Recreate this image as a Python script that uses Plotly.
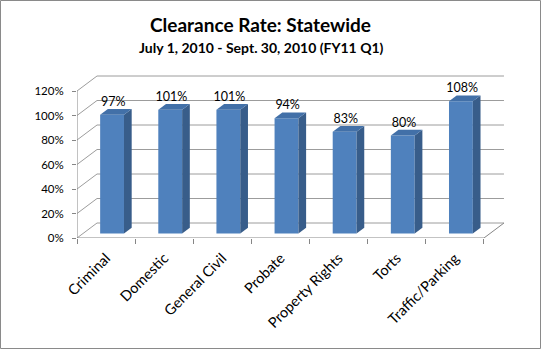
import plotly.graph_objects as go

categories = ["Criminal", "Domestic", "General Civil", "Probate", "Property Rights", "Torts", "Traffic/Parking"]
values = [0.97, 1.01, 1.01, 0.94, 0.83, 0.80, 1.08]
labels = ["97%", "101%", "101%", "94%", "83%", "80%", "108%"]
ytick_vals = [0, 0.2, 0.4, 0.6, 0.8, 1.0, 1.2]
ytick_text = ["0%", "20%", "40%", "60%", "80%", "100%", "120%"]

W, H = 541, 349
ML, MR, MT, MB = 77, 36, 74, 111
PW, PH = W - ML - MR, H - MT - MB
PX_X = 58.14   # pixels per category
PX_Y = 122.5   # pixels per 100%
ddx = 20 / PX_X   # depth offset (x)
ddy = 15 / PX_Y   # depth offset (y)
f1, s, bw = 0.30, 0.385, 0.41

n = len(categories)
xs = list(range(n))
xr = [-0.5, -0.5 + PW / PX_X]
yr = [0, PH / PX_Y]

FRONT = "#4F81BD"
SIDE = "#385D8A"
TOP = "#4270A8"
GRID = "#9c9c9c"
AX = "#868686"
FONT = "Lato"

fig = go.Figure()
base = f1 * ddy
fig.add_trace(go.Bar(x=xs, y=values, base=[base] * n, width=bw, offset=-bw / 2 + f1 * ddx,
                     marker=dict(color=FRONT, line=dict(width=0)), hoverinfo="skip"))

shapes = []
# back wall gridlines + left wall diagonals
for v in ytick_vals:
    shapes.append(dict(type="path", xref="x", yref="y",
                       path=f"M{-0.5},{v} L{-0.5+ddx},{v+ddy} L{n-0.5+ddx},{v+ddy}",
                       line=dict(color=GRID, width=1), layer="below"))
# floor
shapes.append(dict(type="path", xref="x", yref="y",
                   path=f"M{-0.5},0 L{n-0.5},0 L{n-0.5+ddx},{ddy}",
                   line=dict(color=AX, width=1), layer="below"))
# y axis line
shapes.append(dict(type="line", xref="x", yref="y", x0=-0.5, x1=-0.5, y0=0, y1=1.2,
                   line=dict(color=AX, width=1), layer="below"))
# bar sides and tops
for i, v in enumerate(values):
    l = i - bw / 2 + f1 * ddx
    r = l + bw
    b = base
    t = base + v
    sx, sy = s * ddx, s * ddy
    shapes.append(dict(type="path", xref="x", yref="y",
                       path=f"M{r},{b} L{r+sx},{b+sy} L{r+sx},{t+sy} L{r},{t} Z",
                       fillcolor=SIDE, line=dict(width=0)))
    shapes.append(dict(type="path", xref="x", yref="y",
                       path=f"M{l},{t} L{l+sx},{t+sy} L{r+sx},{t+sy} L{r},{t} Z",
                       fillcolor=TOP, line=dict(width=0)))
# outer chart border
shapes.append(dict(type="rect", xref="paper", yref="paper",
                   x0=(0.5 - ML) / PW, x1=(W - 0.5 - ML) / PW,
                   y0=-(H - 0.5 - MT - PH) / PH, y1=(PH + MT - 0.5) / PH,
                   line=dict(color="#8a8a8a", width=1)))

lab_x = [i + f1 * ddx + 0.02 for i in xs]
lab_y = [base + v + s * ddy for v in values]
fig.add_trace(go.Scatter(x=lab_x, y=lab_y, mode="text", text=labels, textposition="top center",
                         textfont=dict(family=FONT, size=12.5, color="#000"), cliponaxis=False,
                         hoverinfo="skip"))

fig.update_layout(
    width=W, height=H, margin=dict(l=ML, r=MR, t=MT, b=MB),
    paper_bgcolor="white", plot_bgcolor="white", showlegend=False,
    shapes=shapes,
    annotations=[
        dict(text="<b>Clearance Rate: Statewide</b>", xref="paper", yref="paper",
             x=(260 - ML) / PW, y=(MT + PH - 25) / PH, xanchor="center", yanchor="middle",
             showarrow=False, font=dict(family=FONT, size=19, color="#000")),
        dict(text="<b>July 1, 2010 - Sept. 30, 2010 (FY11 Q1)</b>", xref="paper", yref="paper",
             x=(261 - ML) / PW, y=(MT + PH - 47) / PH, xanchor="center", yanchor="middle",
             showarrow=False, font=dict(family=FONT, size=14, color="#000")),
    ],
    xaxis=dict(range=xr, tickmode="array", tickvals=xs, ticktext=categories, ticks="",
               tickangle=-45, showgrid=False, zeroline=False, showline=False,
               ticklabelstandoff=8,
               tickfont=dict(family=FONT, size=14.5, color="#000"),
               minor=dict(tickmode="array", tickvals=[i - 0.5 for i in range(n + 1)], ticks="outside",
                          ticklen=5, tickcolor=AX, tickwidth=1, showgrid=False)),
    yaxis=dict(range=yr, tickmode="array", tickvals=ytick_vals, ticktext=ytick_text,
               ticks="outside", ticklen=4, tickcolor=AX, ticklabelstandoff=6,
               showgrid=False, zeroline=False, showline=False,
               tickfont=dict(family=FONT, size=11.5, color="#000")),
)
fig.write_html("out.html")
